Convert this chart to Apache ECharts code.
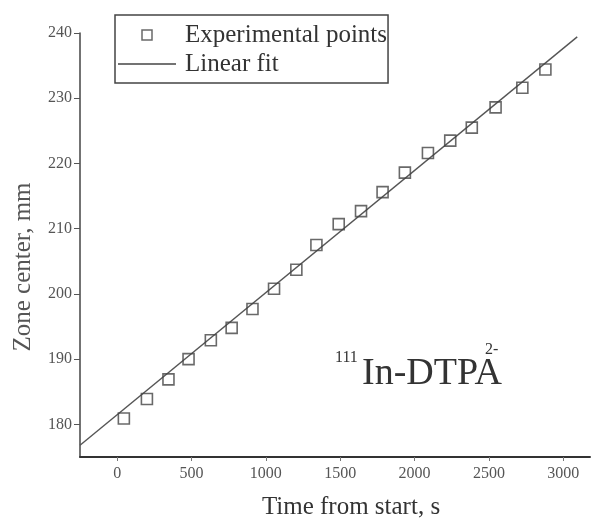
<!DOCTYPE html>
<html>
<head>
<meta charset="utf-8">
<title>Zone center vs time</title>
<script src="https://cdn.jsdelivr.net/npm/echarts@6/dist/echarts.min.js"></script>
<style>
    html, body { margin: 0; padding: 0; background: #ffffff; }
    #chart { width: 592px; height: 521px; }
</style>
</head>
<body>
<div id="chart"></div>
<script>
// measured points (time, s / zone center, mm)
var timeValues = [45, 200, 345, 480, 630, 770, 910, 1055, 1205, 1340, 1490, 1640, 1785, 1935, 2090, 2240, 2385, 2545, 2725, 2880];
var zoneValues = [180.9, 183.9, 186.9, 190.0, 192.9, 194.8, 197.7, 200.8, 203.7, 207.5, 210.7, 212.7, 215.6, 218.6, 221.6, 223.5, 225.5, 228.6, 231.6, 234.4];
// linear fit end points
var fitTime = [-250, 3094];
var fitZone = [176.8, 239.4];
// tick labels
var xTicks = [0, 500, 1000, 1500, 2000, 2500, 3000];
var yTicks = [180, 190, 200, 210, 220, 230, 240];

var serif = '"Liberation Serif", "DejaVu Serif", serif';

var points = timeValues.map(function (t, i) { return [t, zoneValues[i]]; });
var fitLine = fitTime.map(function (t, i) { return [t, fitZone[i]]; });

var chart = echarts.init(document.getElementById('chart'), null, { renderer: 'canvas' });

var option = {
    backgroundColor: '#ffffff',
    animation: false,
    grid: {
        left: 80,
        right: 2,
        top: 33,
        bottom: 64,
        outerBoundsMode: 'none'
    },
    legend: {
        orient: 'vertical',
        left: 115,
        top: 15,
        padding: [6, 1, 5, 3],
        borderColor: '#444',
        borderWidth: 1.5,
        itemWidth: 58,
        itemHeight: 10,
        itemGap: 1,
        symbolKeepAspect: true,
        textStyle: {
            fontFamily: serif,
            fontSize: 25,
            color: '#333',
            lineHeight: 28,
            padding: [0, 0, 0, 4]
        },
        data: [
            {
                name: 'Experimental points',
                icon: 'path://M0,0H10V10H0Z',
                itemStyle: { color: 'rgba(255,255,255,0)', borderColor: '#444', borderWidth: 1.5 }
            },
            {
                name: 'Linear fit',
                icon: 'path://M0,0H58V1.4H0Z',
                itemStyle: { color: '#444', borderWidth: 0 }
            }
        ]
    },
    xAxis: {
        type: 'value',
        min: -250,
        max: 3180,
        name: 'Time from start, s',
        nameLocation: 'middle',
        nameGap: 38,
        nameTextStyle: { fontFamily: serif, fontSize: 25, color: '#333', padding: [0, 0, 0, 32] },
        axisLine: { lineStyle: { color: '#333', width: 2 } },
        axisTick: { show: true, length: 4, customValues: xTicks, lineStyle: { color: '#777' } },
        axisLabel: {
            customValues: xTicks,
            margin: 9,
            fontFamily: serif,
            fontSize: 16,
            color: '#555',
            formatter: function (v) { return String(v); }
        },
        splitLine: { show: false }
    },
    yAxis: {
        type: 'value',
        min: 175,
        max: 240,
        name: 'Zone center, mm',
        nameLocation: 'middle',
        nameGap: 44,
        nameRotate: 90,
        nameTextStyle: { fontFamily: serif, fontSize: 25, color: '#555', padding: [0, 44, 0, 0] },
        axisLine: { show: true, onZero: false, lineStyle: { color: '#444', width: 1.5 } },
        axisTick: { show: true, length: 6, customValues: yTicks, lineStyle: { color: '#555' } },
        axisLabel: { customValues: yTicks, margin: 8, fontFamily: serif, fontSize: 16, color: '#555' },
        splitLine: { show: false }
    },
    series: [
        {
            name: 'Linear fit',
            type: 'line',
            data: fitLine,
            symbol: 'none',
            lineStyle: { color: '#555', width: 1.4 },
            z: 2
        },
        {
            name: 'Experimental points',
            type: 'scatter',
            data: points,
            symbol: 'rect',
            symbolSize: 11,
            itemStyle: { color: 'rgba(255,255,255,0)', borderColor: '#444', borderWidth: 1.6 },
            z: 3
        }
    ],
    // compound label 111In-DTPA2-
    graphic: [
        { type: 'text', left: 335, top: 350, style: { text: '111', font: '16px ' + serif, fill: '#333' } },
        { type: 'text', left: 362, top: 355, style: { text: 'In-DTPA', font: '38px ' + serif, fill: '#333' } },
        { type: 'text', left: 485, top: 342, style: { text: '2-', font: '16px ' + serif, fill: '#333' } }
    ]
};

chart.setOption(option);
window.addEventListener('resize', function () {
    chart.resize();
});
</script>
</body>
</html>
